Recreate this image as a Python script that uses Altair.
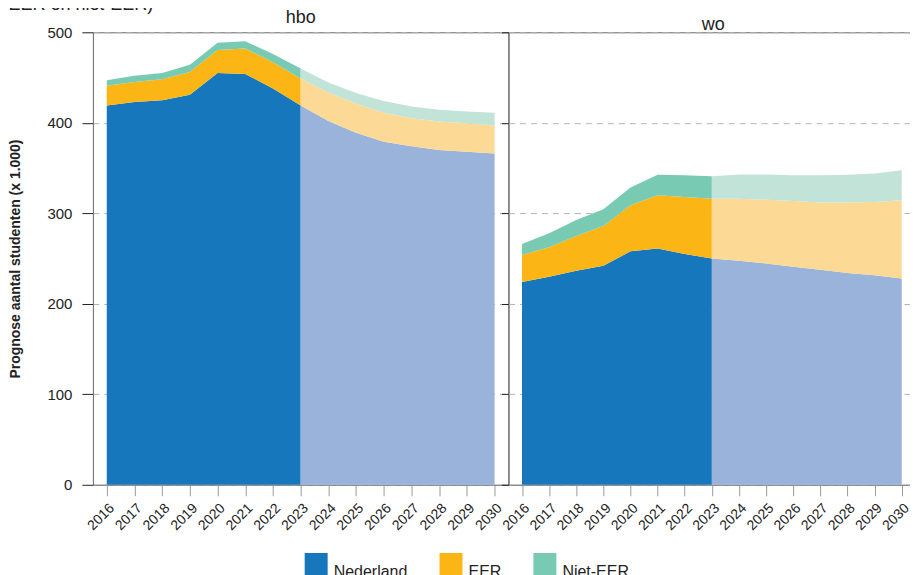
import altair as alt
import pandas as pd

# ---- data (x 1.000 studenten) ----
jaren = list(range(2016, 2031))
herkomst = ["Nederland", "EER", "Niet-EER"]
laatste_realisatie = 2023

hbo_nederland = [419, 423, 425, 431, 455, 454, 438, 419, 402, 389, 379, 374, 370, 368, 366]
hbo_eer = [22, 22, 23, 25, 25.5, 28, 29, 30, 31.5, 32, 32, 31, 31.5, 31.5, 31]
hbo_niet_eer = [6, 7, 7, 8, 8, 8, 9, 11, 11, 12, 13, 13, 13, 13, 14]

wo_nederland = [224, 230, 236.5, 242, 258, 261, 255, 250, 247.5, 244.5, 241, 237.5, 234, 231.5, 228]
wo_eer = [30, 32.5, 38.5, 44, 51, 59, 63, 66, 68.5, 70.5, 72.5, 74.5, 78, 81, 86.5]
wo_niet_eer = [12, 15.5, 17.5, 18.5, 19.5, 22.5, 24, 25, 27, 28, 28.5, 30, 30.5, 31.5, 33]

y_ticks = [0, 100, 200, 300, 400, 500]

kleuren_realisatie = ["#1777bd", "#fbb616", "#78cbb2"]
kleuren_prognose = ["#9ab3da", "#fcd994", "#c2e4d8"]

reeksen = {
    "hbo": [hbo_nederland, hbo_eer, hbo_niet_eer],
    "wo": [wo_nederland, wo_eer, wo_niet_eer],
}

rows = []
for soort, lijst in reeksen.items():
    for i, h in enumerate(herkomst):
        for jaar, w in zip(jaren, lijst[i]):
            if jaar <= laatste_realisatie:
                rows.append(dict(soort=soort, jaar=jaar, herkomst=h, volgorde=i,
                                 waarde=w, periode="realisatie", groep=h))
            if jaar >= laatste_realisatie:
                rows.append(dict(soort=soort, jaar=jaar, herkomst=h, volgorde=i,
                                 waarde=w, periode="prognose", groep=h + " (prognose)"))
df = pd.DataFrame(rows)

kleur_domein = herkomst + [h + " (prognose)" for h in herkomst]
kleur_bereik = kleuren_realisatie + kleuren_prognose

FONT = "Liberation Sans"
TXT = "#222222"


def paneel(soort, breedte, x_einde, y_as):
    base = alt.Chart(df).transform_filter(alt.datum.soort == soort)
    x = alt.X(
        "jaar:Q",
        scale=alt.Scale(domain=[2015.5, x_einde], nice=False, zero=False),
        axis=alt.Axis(values=jaren, format="d", labelAngle=315, labelFontSize=14,
                      labelColor=TXT, labelOverlap=False, labelFlush=False,
                      labelBound=False, tickSize=11, tickColor="#9a9a9a",
                      domainColor="#8a8a8a", grid=False, labelPadding=5, title=None),
    )
    y = alt.Y("waarde:Q", stack="zero",
              scale=alt.Scale(domain=[0, 500], nice=False), axis=y_as)
    kleur = alt.Color(
        "groep:N",
        scale=alt.Scale(domain=kleur_domein, range=kleur_bereik),
        legend=alt.Legend(values=herkomst, orient="none", legendX=212, legendY=521,
                          direction="horizontal", symbolType="square", symbolSize=529,
                          symbolStrokeWidth=0, labelFontSize=16, labelColor=TXT,
                          labelOffset=6, columnPadding=32, labelBaseline="top",
                          title=None),
    )
    lagen = []
    for periode in ["realisatie", "prognose"]:
        lagen.append(
            base.transform_filter(alt.datum.periode == periode)
            .mark_area(opacity=1)
            .encode(x=x, y=y, color=kleur, order=alt.Order("volgorde:Q"))
        )
    return alt.layer(*lagen).properties(
        width=breedte, height=453,
        title=alt.TitleParams(soort, fontSize=18, fontWeight="normal", color=TXT,
                              anchor="middle", frame="group", offset=-2),
    )


y_links = alt.Axis(values=y_ticks, tickSize=11, labelPadding=10, labelFontSize=15,
                   labelColor=TXT, tickColor=TXT, domain=False, grid=True,
                   gridDash=[6, 5], gridColor="#b5b5b5",
                   title="Prognose aantal studenten (x 1.000)", titleFontSize=14,
                   titleFontWeight="bold", titleColor=TXT, titlePadding=24)
y_rechts = alt.Axis(values=y_ticks, tickSize=7, labels=False, tickColor=TXT,
                    domain=False, grid=True, gridDash=[6, 5], gridColor="#b5b5b5",
                    title=None)

chart = (
    alt.hconcat(paneel("hbo", 416, 2030.5, y_links),
                paneel("wo", 410, 2030.6, y_rechts), spacing=0, bounds="flush")
    .resolve_scale(color="shared")
    .properties(
        title=alt.TitleParams("EER en niet-EER)", fontSize=18, fontWeight="normal",
                              color=TXT, anchor="start", frame="bounds", offset=-5),
        padding={"left": 0, "top": -13, "right": -9, "bottom": 0},
    )
    .configure(font=FONT)
    .configure_view(stroke="#666666", strokeWidth=1)
)

chart.save("out.html", embed_options={"renderer": "svg", "actions": False})
